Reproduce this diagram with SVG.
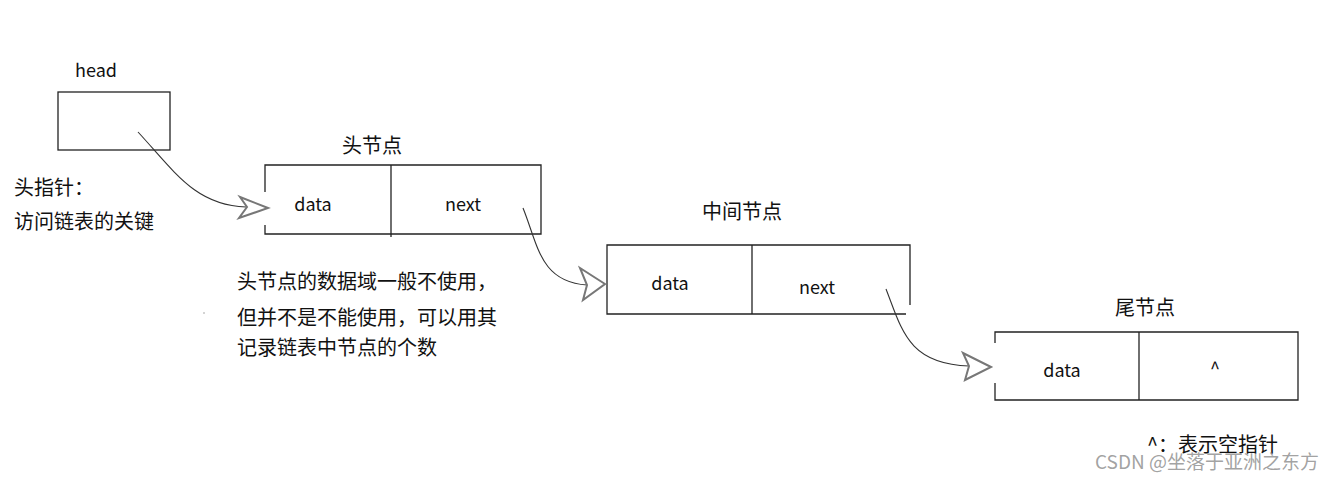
<svg xmlns="http://www.w3.org/2000/svg" width="1342" height="478" viewBox="0 0 1342 478">
<style>
text{font-family:"Noto Sans CJK SC","Microsoft YaHei","Liberation Sans",sans-serif;fill:#111;font-size:18px}
.c{text-anchor:middle}
.zh{font-size:20px}
.box{fill:none;stroke:#222;stroke-width:1.3}
.ln{fill:none;stroke:#222;stroke-width:1.3}
.con{fill:none;stroke:#333;stroke-width:1.1}
.ah{fill:#fff;stroke:#777;stroke-width:2;stroke-linejoin:miter}
.wm{fill:#8a8a8a;fill-opacity:0.8;font-size:19px}
</style>
<rect width="1342" height="478" fill="#fff"/>

<g id="head">
<text x="96" y="77" class="c">head</text>
<rect x="58" y="92" width="112" height="58" class="box"/>
</g>

<g id="head-note">
<text x="14" y="195" class="zh">头指针：</text>
<text x="14" y="229" class="zh">访问链表的关键</text>
</g>

<g id="node1">
<text x="372" y="153" class="c zh">头节点</text>
<path d="M265,192 V165 H541 V234 H265 V225" class="ln"/>
<line x1="391" y1="165" x2="391" y2="237" class="ln"/>
<text x="313" y="211" class="c">data</text>
<text x="463" y="211" class="c">next</text>
</g>

<g id="node1-note">
<text x="237" y="289" class="zh">头节点的数据域一般不使用，</text>
<text x="237" y="325" class="zh">但并不是不能使用，可以用其</text>
<text x="237" y="355" class="zh">记录链表中节点的个数</text>
<circle cx="204" cy="313" r="0.7" fill="#888"/>
</g>

<g id="node2">
<text x="742" y="219" class="c zh">中间节点</text>
<path d="M910,305 V245 H607 V314 H906" class="ln"/>
<line x1="752" y1="245" x2="752" y2="314" class="ln"/>
<text x="670" y="290" class="c">data</text>
<text x="817" y="294" class="c">next</text>
</g>

<g id="node3">
<text x="1145" y="315" class="c zh">尾节点</text>
<path d="M995,343 V332 H1298 V400 H995 V383" class="ln"/>
<line x1="1139" y1="332" x2="1139" y2="400" class="ln"/>
<text x="1062" y="377" class="c">data</text>
<text x="1215" y="375" class="c">^</text>
</g>

<g id="legend">
<text x="1147" y="452" class="zh">^：表示空指针</text>
<text x="1095" y="469" class="wm">CSDN @坐落于亚洲之东方</text>
</g>

<g id="connectors">
<path d="M138,132 C175,172 195,205 246,207" class="con"/>
<polygon points="268,208 240,197 247,207 239,218" class="ah"/>
<path d="M523,208 C538,245 540,282 587,285" class="con"/>
<polygon points="605,284 580,268 587,285 583,300" class="ah"/>
<path d="M886,289 C902,330 908,364 969,366" class="con"/>
<polygon points="991,367 963,353 969,366 965,380" class="ah"/>
</g>
</svg>
